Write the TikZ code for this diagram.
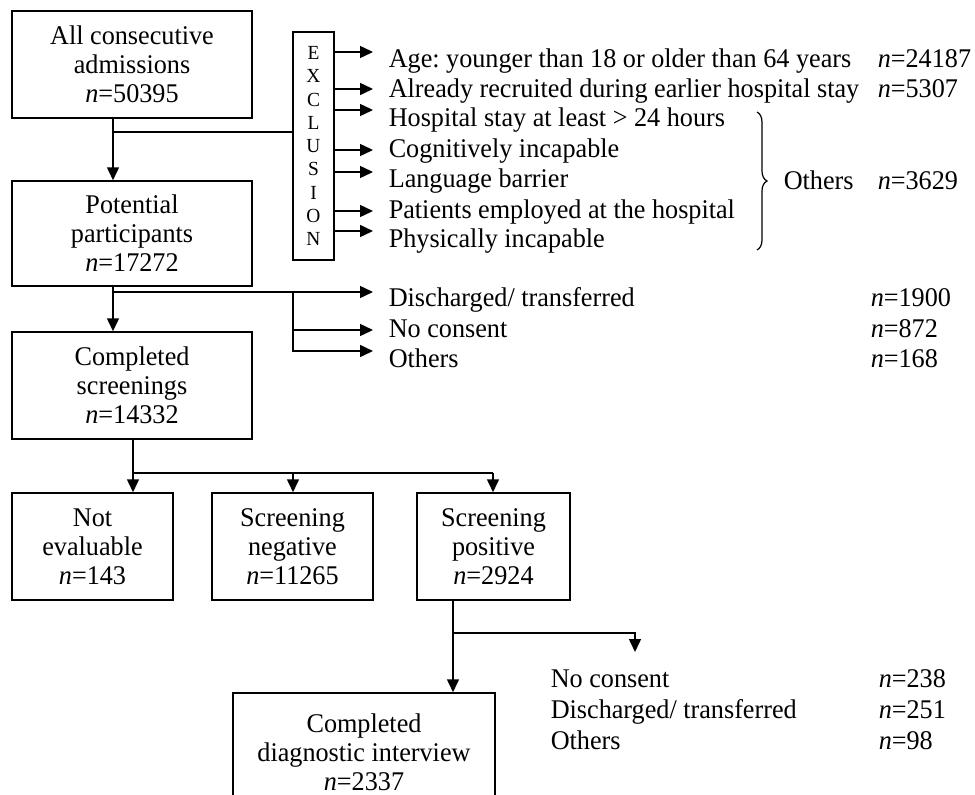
\documentclass[tikz,border=0pt]{standalone}
\usepackage{fontspec}
\setmainfont[FakeStretch=0.97]{Liberation Serif}
\usetikzlibrary{arrows.meta,decorations.pathreplacing}
\frenchspacing
\begin{document}
\begin{tikzpicture}[x=1pt,y=-1pt,line width=1.5pt,
  box/.style={draw,line width=1.5pt,inner sep=0pt,align=center,font=\fontsize{27}{29}\selectfont},
  lbl/.style={anchor=base west,inner sep=0pt,font=\fontsize{27}{28}\selectfont},
  arr/.style={-{Triangle[length=13pt,width=12pt]}}]
\useasboundingbox (0,0) rectangle (975,795);
\clip (0,0) rectangle (975,795);
% main boxes
\node[box,minimum width=240,minimum height=107] (b1) at (132,64.5) {All consecutive\\admissions\\\textit{n}=50395};
\node[box,minimum width=240,minimum height=105] (b2) at (132,233.5) {Potential\\participants\\\textit{n}=17272};
\node[box,minimum width=240,minimum height=107] (b3) at (132,385.5) {Completed\\screenings\\\textit{n}=14332};
\node[box,minimum width=161,minimum height=107] (b4) at (92.5,546.5) {Not\\evaluable\\\textit{n}=143};
\node[box,minimum width=161,minimum height=107] (b5) at (292.5,546.5) {Screening\\negative\\\textit{n}=11265};
\node[box,minimum width=153,minimum height=107] (b6) at (493.5,546.5) {Screening\\positive\\\textit{n}=2924};
\node[box,minimum width=262,minimum height=118] (b7) at (364,752) {Completed\\diagnostic interview\\\textit{n}=2337};
% exclusion box
\node[draw,line width=1.5pt,inner sep=0pt,minimum width=41,minimum height=228,align=center,font=\fontsize{20}{23.25}\selectfont] (excl) at (313.5,146) {E\\X\\C\\L\\U\\S\\I\\O\\N};
% exclusion labels
\node[lbl] (e1) at (388,67) {Age: younger than 18 or older than 64 years};
\node[lbl] (e2) at (388,97) {Already recruited during earlier hospital stay};
\node[lbl] (e3) at (388,126) {Hospital stay at least > 24 hours};
\node[lbl] (e4) at (388,157) {Cognitively incapable};
\node[lbl] (e5) at (388,187) {Language barrier};
\node[lbl] (e6) at (388,218) {Patients employed at the hospital};
\node[lbl] (e7) at (388,247) {Physically incapable};
\node[lbl] (n1) at (877,67) {\textit{n}=24187};
\node[lbl] (n2) at (877,97) {\textit{n}=5307};
\node[lbl] (oth) at (783,189) {Others};
\node[lbl] (n3) at (877,189) {\textit{n}=3629};
\draw[line width=1.2pt,decorate,decoration={brace,amplitude=10pt}] (757,112) -- (757,250);
% exclusion arrows
\foreach \y/\k in {52/1,89/2,110/3,150/4,172/5,211/6,231/7}{
  \coordinate (et\k) at (373,\y);
  \draw[arr] (excl.east |- et\k) -- (et\k);
}
% box1 -> box2 and exclusion
\coordinate (j1) at (113,132);
\draw[arr] (b1.south -| j1) -- (b2.north -| j1);
\draw (j1) -- (excl.west |- j1);
% box2 -> box3 and losses
\coordinate (j2) at (113,292);
\coordinate (j2b) at (293,292);
\coordinate (t1) at (373,292);
\coordinate (t2) at (373,330);
\coordinate (t3) at (373,351);
\draw[arr] (b2.south -| j2) -- (b3.north -| j2);
\draw[arr] (j2) -- (t1);
\draw[arr] (j2b) |- (t2);
\draw[arr] (j2b) |- (t3);
\node[lbl] (d1) at (388,306) {Discharged/ transferred};
\node[lbl] (d2) at (388,337) {No consent};
\node[lbl] (d3) at (388,367) {Others};
\node[lbl] (dn1) at (870,306) {\textit{n}=1900};
\node[lbl] (dn2) at (870,337) {\textit{n}=872};
\node[lbl] (dn3) at (870,367) {\textit{n}=168};
% box3 -> three boxes
\coordinate (j3) at (133,473);
\draw[arr] (b3.south -| j3) -- (b4.north -| j3);
\draw (j3) -- (493,473);
\draw[arr] (293,473) -- (b5.north -| 293,0);
\draw[arr] (493,473) -- (b6.north -| 493,0);
% positive -> interview and losses
\coordinate (j4) at (453,633);
\coordinate (t4) at (635,652);
\draw[arr] (b6.south -| j4) -- (b7.north -| j4);
\draw[arr] (j4) -| (t4);
\node[lbl] (l1) at (550,687) {No consent};
\node[lbl] (l2) at (550,718) {Discharged/ transferred};
\node[lbl] (l3) at (550,749) {Others};
\node[lbl] (ln1) at (878,687) {\textit{n}=238};
\node[lbl] (ln2) at (878,718) {\textit{n}=251};
\node[lbl] (ln3) at (878,749) {\textit{n}=98};
\end{tikzpicture}
\end{document}
